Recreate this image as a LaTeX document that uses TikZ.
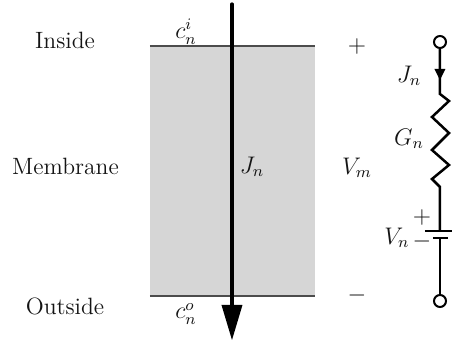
\documentclass[tikz,border=0pt]{standalone}
\usetikzlibrary{arrows.meta}
\tikzset{
  lbl/.style={inner sep=0pt,font=\fontsize{11.8}{14}\selectfont,text=black!92},
  wire/.style={line width=1.25pt,black,line join=miter},
  term/.style={circle,draw=black,fill=white,line width=1pt,minimum size=6pt,inner sep=0pt}
}
\begin{document}
\begin{tikzpicture}[x=0.5pt,y=-0.5pt]
\useasboundingbox (0,0) rectangle (452,342);
\fill[black!16] (150,46) rectangle (315,296);
\coordinate (tl) at (150,46);
\coordinate (tr) at (315,46);
\coordinate (bl) at (150,296);
\coordinate (br) at (315,296);
\draw[line width=0.7pt,black!70] (tl) -- (tr);
\draw[line width=0.7pt,black!70] (bl) -- (br);
\coordinate (fluxa) at (232,4);
\coordinate (fluxb) at (232,308);
\coordinate (fluxc) at (232,340);
\draw[line width=1.6pt,line cap=round] (fluxa) -- (fluxb);
\fill (221.5,305) -- (242.5,305) -- (fluxc) -- cycle;
\node[lbl] (inside) at (65,40) {Inside};
\node[lbl] (membrane) at (65.5,166) {Membrane};
\node[lbl] (outside) at (65,306) {Outside};
\node[lbl] (ci) at (186,32) {$c_n^i$};
\node[lbl] (co) at (186,314) {$c_n^o$};
\node[lbl] (jm) at (252,167) {$J_n$};
\node[lbl] (vm) at (357,168) {$V_m$};
\node[lbl] (plus) at (357,47) {$+$};
\node[lbl] (minus) at (357,296) {$-$};
\node[lbl] (jc) at (409,76) {$J_n$};
\node[lbl] (gn) at (409,139) {$G_n$};
\node[lbl] (vn) at (397,238) {$V_n$};
\node[lbl] (bp) at (422,218) {$+$};
\node[lbl] (bm) at (422,248) {$\smash{-}$};
\node[term] (t1) at (440,42) {};
\node[term] (t2) at (440,301) {};
\coordinate (pl) at (425,231);
\coordinate (pr) at (452,231);
\coordinate (sl) at (433,238);
\coordinate (sr) at (448,238);
\coordinate (pm) at (440,231);
\coordinate (sm) at (440,238);
\draw[wire] (t1) -- (440,94) -- (449,101) -- (432,117) -- (449,133) -- (432,150) -- (449,165) -- (432,179) -- (440,187) -- (pm);
\draw[wire] (sm) -- (t2);
\draw[wire] (pl) -- (pr);
\draw[wire] (sl) -- (sr);
\fill (434.5,69) -- (445.5,69) -- (440,80) -- cycle;
\end{tikzpicture}
\end{document}
